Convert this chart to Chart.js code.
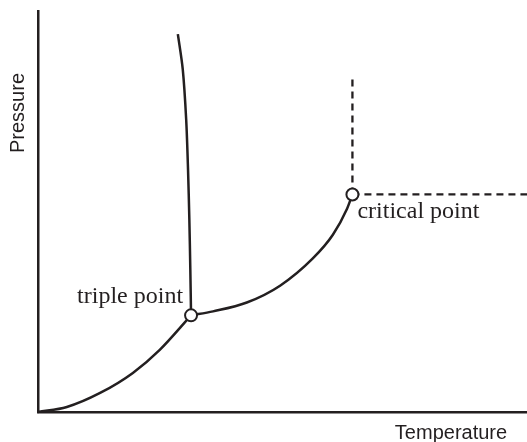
<!DOCTYPE html>
<html><head><meta charset="utf-8">
<script src="https://cdn.jsdelivr.net/npm/chart.js@4/dist/chart.umd.min.js"></script>
<style>html,body{margin:0;padding:0;background:#fff}canvas{display:block}</style>
</head><body>
<canvas id="c" width="527" height="442"></canvas>
<script>
// Phase diagram (arbitrary units: temperature 0-100, pressure 0-100)
const sublimationT = [0, 5.9, 12.7, 19.4, 24.9, 31.3];
const sublimationP = [0, 1.25, 4.75, 9.75, 15.5, 24.1];
const meltingT = [31.3, 31.15, 30.95, 30.68, 30.3, 29.6, 28.6];
const meltingP = [24.1, 35.5, 48.0, 60.5, 73.0, 85.5, 94.25];
const vaporT = [31.3, 35.8, 42.7, 49.5, 56.2, 60.3, 63.2, 64.3];
const vaporP = [24.1, 25.1, 27.3, 31.5, 38.3, 44.2, 50.7, 54.25];
const supercritVT = [64.3, 64.3];
const supercritVP = [54.25, 83.0];
const supercritHT = [64.3, 100];
const supercritHP = [54.25, 54.25];
const specialNames = ["triple point", "critical point"];
const specialT = [31.3, 64.3];
const specialP = [24.1, 54.25];
const axisTitles = ["Temperature", "Pressure"];

const ink = '#231f20';
const pts = (xs, ys) => xs.map((x, i) => ({x, y: ys[i]}));
const curve = (xs, ys, extra) => Object.assign({
  data: pts(xs, ys), showLine: true, borderColor: ink, borderWidth: 2.5,
  pointRadius: 0, pointHoverRadius: 0, tension: 0.4, fill: false, order: 2
}, extra || {});

const labelPlugin = {
  id: 'labels',
  afterDatasetsDraw(chart) {
    const ctx = chart.ctx, xs = chart.scales.x, ys = chart.scales.y;
    ctx.save();
    ctx.fillStyle = ink;
    ctx.font = '24px "Liberation Serif", "Times New Roman", serif';
    ctx.textBaseline = 'alphabetic';
    let px = xs.getPixelForValue(specialT[0]), py = ys.getPixelForValue(specialP[0]);
    ctx.textAlign = 'right';
    ctx.fillText(specialNames[0], px - 8, py - 12);
    px = xs.getPixelForValue(specialT[1]); py = ys.getPixelForValue(specialP[1]);
    ctx.textAlign = 'left';
    ctx.fillText(specialNames[1], px + 5, py + 24);
    ctx.font = '20px "Liberation Sans", Arial, sans-serif';
    ctx.textAlign = 'center';
    ctx.fillText(axisTitles[0], 451, 439);
    ctx.save();
    ctx.translate(24, 113);
    ctx.rotate(-Math.PI / 2);
    ctx.fillText(axisTitles[1], 0, 0);
    ctx.restore();
    ctx.restore();
  }
};

new Chart(document.getElementById('c'), {
  type: 'scatter',
  data: {
    datasets: [
      curve(sublimationT, sublimationP, {cubicInterpolationMode: 'monotone'}),
      curve(meltingT, meltingP, {tension: 0.3}),
      curve(vaporT, vaporP, {cubicInterpolationMode: 'monotone'}),
      curve(supercritVT, supercritVP, {tension: 0, borderDash: [7, 5], borderWidth: 2.3}),
      curve(supercritHT, supercritHP, {tension: 0, borderDash: [7, 5], borderWidth: 2.3}),
      {data: pts(specialT, specialP), showLine: false, pointRadius: 6, pointBorderWidth: 2,
       pointBackgroundColor: '#fff', pointBorderColor: ink, pointHoverRadius: 6, order: 0}
    ]
  },
  options: {
    responsive: false, animation: false,
    layout: {autoPadding: false, padding: {left: 38, top: 11, right: 0, bottom: 30}},
    plugins: {legend: {display: false}, tooltip: {enabled: false}},
    clip: false,
    scales: {
      x: {type: 'linear', min: 0, max: 100, ticks: {display: false},
          grid: {display: false, drawTicks: false}, border: {display: true, color: ink, width: 2.5}},
      y: {type: 'linear', min: 0, max: 100, ticks: {display: false},
          grid: {display: false, drawTicks: false}, border: {display: true, color: ink, width: 2.5}}
    }
  },
  plugins: [labelPlugin]
});
</script>
</body></html>
